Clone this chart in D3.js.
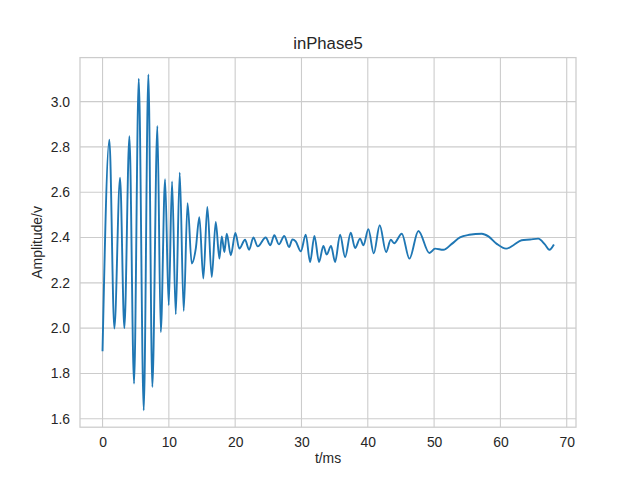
<!DOCTYPE html>
<html>
<head>
<meta charset="utf-8">
<script src="https://cdn.jsdelivr.net/npm/d3@7"></script>
<style>
  html, body { margin: 0; padding: 0; background: #ffffff; }
  svg { display: block; }
  text { font-family: "Liberation Sans", Arial, sans-serif; fill: #262626; }
</style>
</head>
<body>
<svg id="chart" width="640" height="480"></svg>
<script>
// ---- data (t in ms, amplitude in v) ----
const timeMs = [
  0, 1.03, 1.78, 2.64, 3.29, 4.05, 4.75, 5.46, 6.21, 6.91,
  7.51, 8.27, 8.78, 9.43, 9.98, 10.48, 11.04, 11.64, 12.24, 12.82,
  13.45, 14.06, 14.6, 15.2, 15.8, 16.47, 17.07, 17.62, 17.98, 18.37,
  18.73, 19.34, 20.03, 20.63, 21.49, 22.1, 22.75, 23.4, 24.6, 25.3,
  25.9, 26.6, 27.4, 28.13, 28.63, 29.13, 29.9, 30.65, 31.3, 31.95,
  32.65, 33.3, 33.8, 34.46, 35.07, 35.82, 36.58, 37.43, 38.08, 38.84,
  39.34, 40.09, 40.9, 41.8, 42.76, 43.47, 43.97, 45.13, 46.28, 47.63,
  49.29, 50.15, 51.4, 52.67, 53.9, 55.3, 57.2, 58.2, 59.45, 60.86,
  61.96, 63.2, 64.48, 65.7, 66.7, 67.4, 68.0
];
const amplitude = [
  1.902, 2.832, 1.998, 2.664, 2.0, 2.847, 1.755, 3.101, 1.637, 3.12,
  1.74, 2.892, 1.983, 2.657, 2.101, 2.648, 2.061, 2.686, 2.076, 2.552,
  2.285, 2.351, 2.49, 2.219, 2.535, 2.226, 2.469, 2.307, 2.405, 2.336,
  2.417, 2.322, 2.42, 2.351, 2.39, 2.346, 2.4, 2.361, 2.4, 2.366,
  2.41, 2.37, 2.407, 2.358, 2.392, 2.383, 2.339, 2.413, 2.292, 2.407,
  2.292, 2.363, 2.325, 2.363, 2.292, 2.413, 2.314, 2.421, 2.354, 2.395,
  2.366, 2.437, 2.33, 2.454, 2.336, 2.39, 2.375, 2.417, 2.307, 2.429,
  2.332, 2.351, 2.346, 2.372, 2.401, 2.412, 2.417, 2.405, 2.372, 2.351,
  2.366, 2.388, 2.391, 2.395, 2.37, 2.346, 2.366
];
const xTicks = [0, 10, 20, 30, 40, 50, 60, 70];
const yTicks = [1.6, 1.8, 2.0, 2.2, 2.4, 2.6, 2.8, 3.0];
const titleText = "inPhase5";
const xLabelText = "t/ms";
const yLabelText = "Amplitude/v";

(function () {
  // ---- layout ----
  const mLeft = 80, mRight = 576, mTop = 57.6, mBottom = 427.2;

  const svg = d3.select("#chart");

  function padded(ext) {
    const span = ext[1] - ext[0];
    return [ext[0] - 0.05 * span, ext[1] + 0.05 * span];
  }

  const x = d3.scaleLinear().domain(padded(d3.extent(timeMs))).range([mLeft, mRight]);
  const y = d3.scaleLinear().domain(padded(d3.extent(amplitude))).range([mBottom, mTop]);

  // grid
  const grid = svg.append("g");
  grid.selectAll("line.gx").data(xTicks).enter().append("line")
    .attr("x1", d => x(d)).attr("x2", d => x(d))
    .attr("y1", mTop).attr("y2", mBottom)
    .attr("stroke", "#cccccc").attr("stroke-width", 1.1);
  grid.selectAll("line.gy").data(yTicks).enter().append("line")
    .attr("y1", d => y(d)).attr("y2", d => y(d))
    .attr("x1", mLeft).attr("x2", mRight)
    .attr("stroke", "#cccccc").attr("stroke-width", 1.1);

  // axes (labels only, no tick marks)
  const xAxis = d3.axisBottom(x).tickValues(xTicks).tickSize(0).tickPadding(10)
    .tickFormat(d3.format("d"));
  const yAxis = d3.axisLeft(y).tickValues(yTicks).tickSize(0).tickPadding(10)
    .tickFormat(d3.format(".1f"));

  const gx = svg.append("g").attr("transform", `translate(0,${mBottom})`).call(xAxis);
  const gy = svg.append("g").attr("transform", `translate(${mLeft},0)`).call(yAxis);
  [gx, gy].forEach(g => {
    g.select(".domain").remove();
    g.selectAll("text").attr("font-size", "13.9px")
      .attr("font-family", "'Liberation Sans', Arial, sans-serif").attr("fill", "#262626");
  });

  // line
  const line = d3.line()
    .x((d, i) => x(timeMs[i]))
    .y(d => y(d))
    .curve(d3.curveMonotoneX);

  svg.append("path")
    .datum(amplitude)
    .attr("d", line)
    .attr("fill", "none")
    .attr("stroke", "#1f77b4")
    .attr("stroke-width", 1.9)
    .attr("stroke-linejoin", "round")
    .attr("stroke-linecap", "square");

  // spines
  svg.append("rect")
    .attr("x", mLeft).attr("y", mTop)
    .attr("width", mRight - mLeft).attr("height", mBottom - mTop)
    .attr("fill", "none").attr("stroke", "#cccccc").attr("stroke-width", 1.25);

  // title and labels
  svg.append("text")
    .attr("x", (mLeft + mRight) / 2).attr("y", 49)
    .attr("text-anchor", "middle").attr("font-size", "16.7px")
    .text(titleText);

  svg.append("text")
    .attr("x", (mLeft + mRight) / 2).attr("y", 463)
    .attr("text-anchor", "middle").attr("font-size", "13.9px")
    .text(xLabelText);

  svg.append("text")
    .attr("transform", `translate(42,${(mTop + mBottom) / 2}) rotate(-90)`)
    .attr("text-anchor", "middle").attr("font-size", "13.9px")
    .text(yLabelText);
})();
</script>
</body>
</html>
